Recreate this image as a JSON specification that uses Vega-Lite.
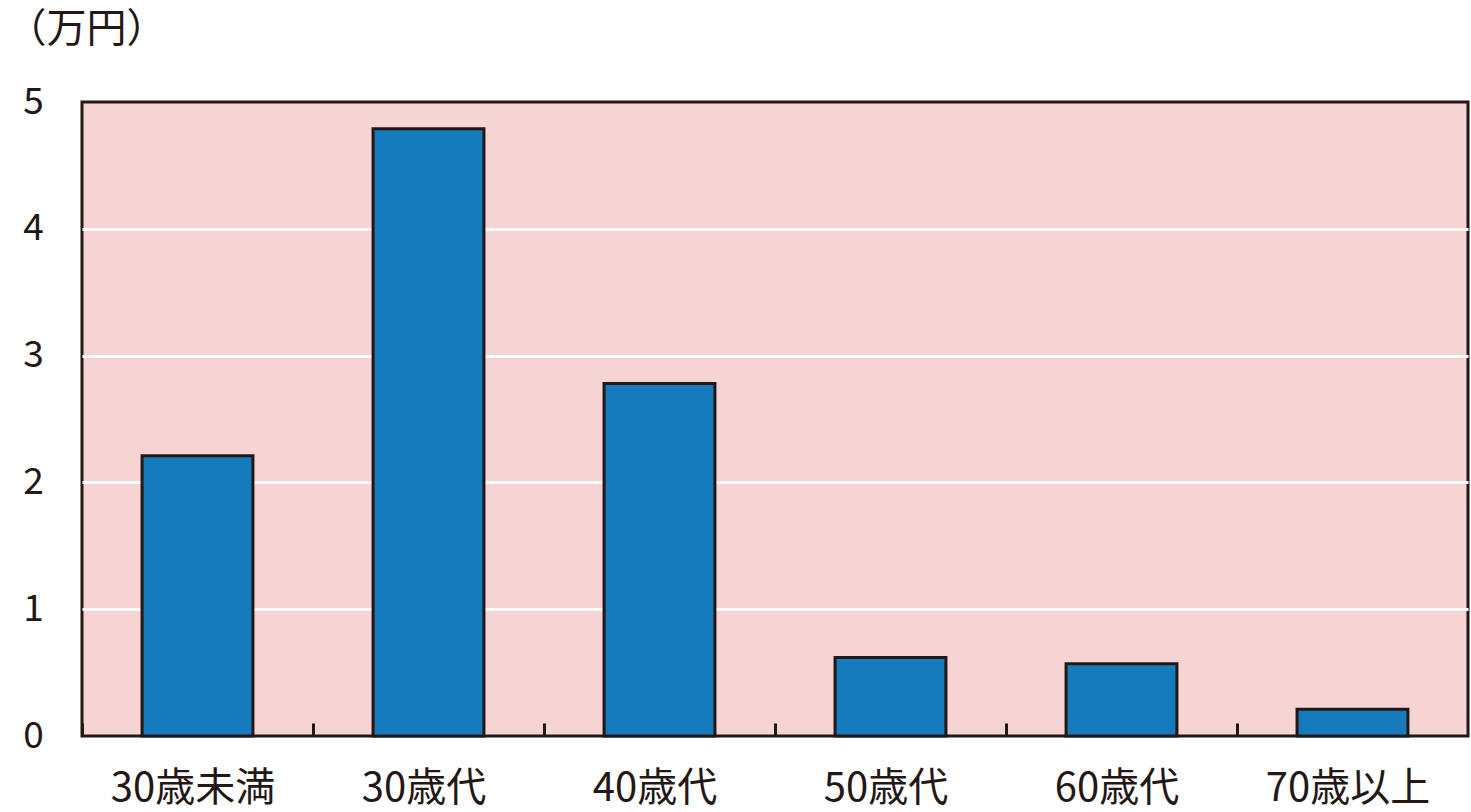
{
  "$schema": "https://vega.github.io/schema/vega-lite/v6.json",
  "autosize": {"type": "none"},
  "padding": {"left": 82, "top": 102, "right": 3, "bottom": 76},
  "width": 1386,
  "height": 634,
  "background": "white",
  "config": {
    "font": "Noto Sans CJK JP",
    "view": {"fill": "#F7D4D4", "stroke": "#231815", "strokeWidth": 3},
    "axis": {"labelColor": "#231815", "titleColor": "#231815", "labelFont": "Noto Sans CJK JP", "titleFont": "Noto Sans CJK JP"}
  },
  "data": {
    "values": [
      {"age": "30歳未満", "amount": 2.21},
      {"age": "30歳代", "amount": 4.79},
      {"age": "40歳代", "amount": 2.78},
      {"age": "50歳代", "amount": 0.62},
      {"age": "60歳代", "amount": 0.57},
      {"age": "70歳以上", "amount": 0.21}
    ]
  },
  "mark": {"type": "bar", "fill": "#167BBD", "stroke": "#231815", "strokeWidth": 3},
  "encoding": {
    "x": {
      "field": "age",
      "type": "nominal",
      "sort": null,
      "scale": {"paddingInner": 0.52, "paddingOuter": 0.26},
      "axis": {
        "title": null,
        "labelAngle": 0,
        "labelFontSize": 40,
        "labelPadding": 32,
        "bandPosition": 0,
        "labelOffset": 55,
        "tickOffset": -60,
        "offset": -13,
        "ticks": true,
        "tickSize": 13,
        "tickWidth": 3,
        "tickColor": "#231815",
        "domain": false,
        "grid": false,
        "zindex": 1
      }
    },
    "y": {
      "field": "amount",
      "type": "quantitative",
      "scale": {"domain": [0, 5], "nice": false},
      "axis": {
        "values": [0, 1, 2, 3, 4, 5],
        "title": "（万円）",
        "titleAngle": 0,
        "titleAlign": "left",
        "titleBaseline": "top",
        "titleX": -76,
        "titleY": -93,
        "titleFontSize": 40,
        "titleFontWeight": "normal",
        "labelFontSize": 37,
        "labelAlign": "center",
        "labelBaseline": "middle",
        "labelPadding": 49,
        "ticks": false,
        "domain": false,
        "grid": true,
        "gridColor": {"condition": {"test": "datum.value === 0 || datum.value === 5", "value": "transparent"}, "value": "white"},
        "gridWidth": 3
      }
    }
  }
}
